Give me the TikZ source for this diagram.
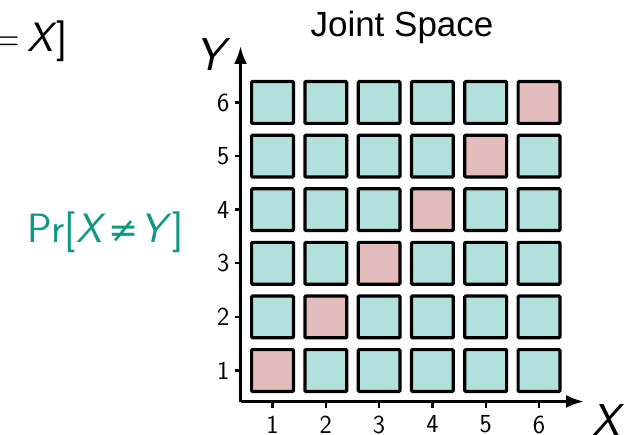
\documentclass[tikz,border=0pt]{standalone}
\usepackage{fontspec}
\newfontfamily\helv{Liberation Sans}
\newfontfamily\symbfont{DejaVu Sans}
\usetikzlibrary{arrows.meta,positioning}

\definecolor{cellteal}{RGB}{178,224,220}
\definecolor{cellpink}{RGB}{227,188,188}
\definecolor{probteal}{RGB}{14,152,132}

\tikzset{
  cell/.style={draw=black,line width=3.2pt,minimum size=41.8pt,inner sep=0pt,rounded corners=1pt},
  axis/.style={line width=3pt,-{Latex[length=18pt,width=13pt]}},
  tickmark/.style={line width=2.4pt},
  ticklabel/.style={inner sep=0pt,font=\sffamily\fontsize{26}{28}\selectfont},
  axislabel/.style={inner sep=0pt,font=\sffamily\itshape\fontsize{46}{50}\selectfont}
}

\begin{document}
\begin{tikzpicture}[x=1pt,y=-1pt,>=Latex]
  \useasboundingbox (0,0) rectangle (631,435);
  % axes
  \coordinate (origin) at (240.5,401.5);
  \coordinate (xtip) at (584,401.5);
  \coordinate (ytip) at (240.5,46);
  \draw[axis] (origin) -- (xtip);
  \draw[axis] (origin) -- (ytip);
  \node[axislabel] (ylab) at (210,55) {Y};
  \node[axislabel] (xlab) at (606,421) {X};
  % cells of the joint space, diagonal in pink
  \foreach \i in {1,...,6}{
    \foreach \j in {1,...,6}{
      \ifnum\i=\j \def\cellfill{cellpink}\else\def\cellfill{cellteal}\fi
      \node[cell,fill=\cellfill] (c\i\j) at ({272.5+53.3*(\i-1)},{370.5-53.6*(\j-1)}) {};
    }
    \coordinate (xt\i) at ({272.5+53.3*(\i-1)},401.5);
    \coordinate (yt\i) at (240.5,{370.5-53.6*(\i-1)});
    \draw[tickmark] (xt\i) -- ++(0,6);
    \draw[tickmark] (yt\i) -- ++(-6,0);
    \node[ticklabel,anchor=north] (xl\i) at ([yshift=-14pt]xt\i) {\i};
    \node[ticklabel,anchor=east] (yl\i) at ([xshift=-11pt]yt\i) {\i};
  }
  \node[font=\helv\fontsize{35}{38}\selectfont] (title) at (402,27) {Joint Space};
  % probability labels
  \node[probteal,anchor=base west,inner sep=0pt,font=\sffamily\fontsize{41}{44}\selectfont] (prob) at (27,243)
    {Pr[\textit{X}\kern3pt{\symbfont\fontsize{36}{40}\selectfont ≠}\kern2pt\textit{Y}]};
  \node[anchor=base east,inner sep=0pt,font=\sffamily\fontsize{41}{44}\selectfont] (given) at (68,52)
    {=\,\textit{X}]};
\end{tikzpicture}
\end{document}
